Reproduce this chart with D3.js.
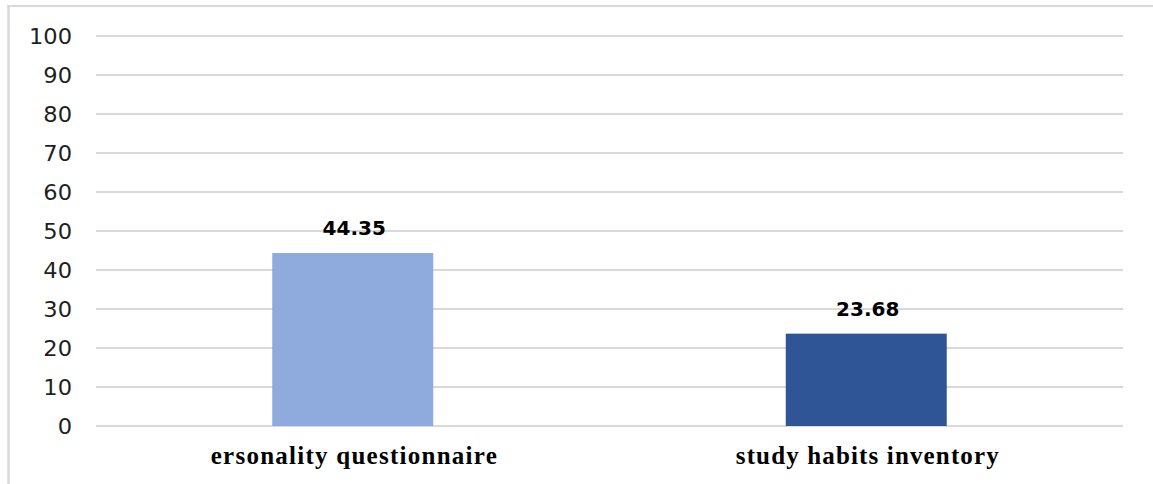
<!DOCTYPE html>
<html>
<head>
<meta charset="utf-8">
<script src="https://d3js.org/d3.v7.min.js"></script>
<style>
  html, body { margin: 0; padding: 0; background: #fff; }
  svg { display: block; }
</style>
</head>
<body>
<svg id="chart" width="1153" height="484"></svg>
<script>
// Mean scores per instrument
const categories = ["ersonality questionnaire", "study habits inventory"];
const values = [44.35, 23.68];
const barColors = ["#8faadc", "#2f5597"];
const tickValues = [0, 10, 20, 30, 40, 50, 60, 70, 80, 90, 100];
const labelWidths = [286, 263];

const svg = d3.select("#chart");
const W = 1153, H = 484;
const plot = { left: 96, right: 1123, top: 36, bottom: 426 };

// Outer frame (top and left edges)
svg.append("line").attr("x1", 7).attr("x2", W).attr("y1", 6).attr("y2", 6)
  .attr("stroke", "#d9d9d9").attr("stroke-width", 2);
svg.append("line").attr("x1", 8.5).attr("x2", 8.5).attr("y1", 6).attr("y2", H)
  .attr("stroke", "#d9d9d9").attr("stroke-width", 2.5);

const x = d3.scaleBand()
  .domain(categories)
  .range([plot.left, plot.right])
  .paddingInner(0.6865)
  .paddingOuter(0.34325);

const y = d3.scaleLinear().domain([0, 100]).range([plot.bottom, plot.top]);

// Gridlines
svg.append("g").selectAll("line").data(tickValues).join("line")
  .attr("x1", plot.left).attr("x2", plot.right)
  .attr("y1", d => y(d)).attr("y2", d => y(d))
  .attr("stroke", "#d9d9d9").attr("stroke-width", 2);

// Y axis labels (slightly widened glyphs)
const yAxis = d3.axisLeft(y).tickValues(tickValues).tickSize(0).tickPadding(0);
const gy = svg.append("g").attr("transform", "translate(72,0)").call(yAxis);
gy.select(".domain").remove();
gy.selectAll(".tick text")
  .attr("font-family", "'DejaVu Sans', sans-serif")
  .attr("font-size", 20.5)
  .attr("fill", "#1f1f1f")
  .attr("x", 0)
  .attr("dy", "0.36em")
  .attr("transform", "scale(1.1,1)");

// Bars
svg.append("g").selectAll("rect").data(values).join("rect")
  .attr("x", (d, i) => x(categories[i]))
  .attr("width", x.bandwidth())
  .attr("y", d => y(d))
  .attr("height", d => y(0) - y(d))
  .attr("fill", (d, i) => barColors[i]);

// Value labels
svg.append("g").selectAll("text").data(values).join("text")
  .attr("x", (d, i) => x(categories[i]) + x.bandwidth() / 2 + 1.5)
  .attr("y", d => y(d) - 18)
  .attr("text-anchor", "middle")
  .attr("font-family", "'DejaVu Sans', sans-serif")
  .attr("font-weight", "bold")
  .attr("font-size", 20)
  .attr("fill", "#000")
  .text(d => d.toFixed(2));

// Category labels
svg.append("g").selectAll("text").data(categories).join("text")
  .attr("x", d => x(d) + x.bandwidth() / 2 + 1)
  .attr("y", 464)
  .attr("text-anchor", "middle")
  .attr("font-family", "'Liberation Serif', 'Times New Roman', serif")
  .attr("font-weight", "bold")
  .attr("font-size", 25)
  .attr("fill", "#000")
  .attr("textLength", (d, i) => labelWidths[i])
  .attr("lengthAdjust", "spacing")
  .text(d => d);
</script>
</body>
</html>
